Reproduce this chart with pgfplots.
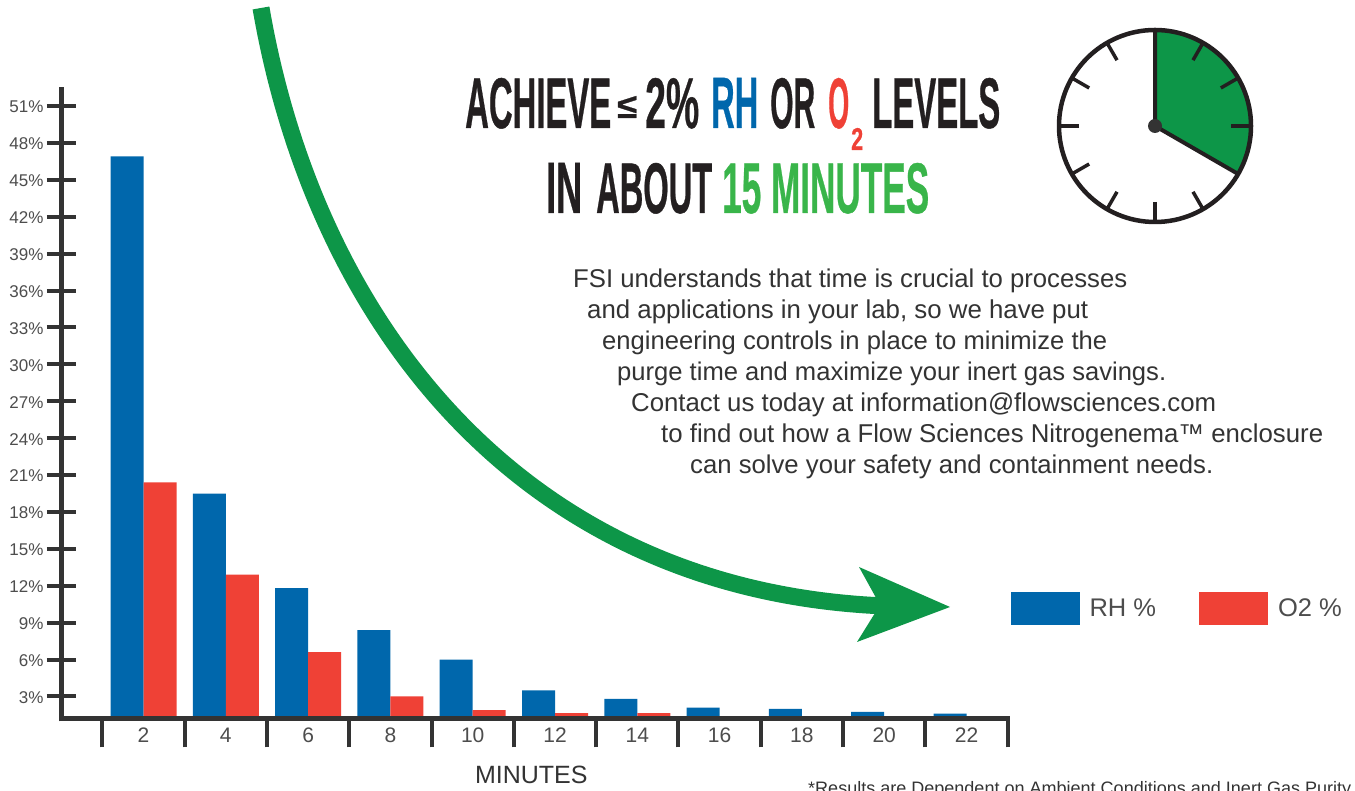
\documentclass[border=0pt]{standalone}
\usepackage{graphicx}
\usepackage{fontspec}
\usepackage{pgfplots}
\pgfplotsset{compat=1.18}
\setmainfont{Liberation Sans}
\newfontfamily\titlefont[FakeBold=0.7]{Liberation Sans Bold}
\definecolor{rhblue}{HTML}{0067AC}
\definecolor{otwo}{HTML}{EF4136}
\definecolor{tgreen}{HTML}{39B54A}
\definecolor{agreen}{HTML}{0D9648}
\definecolor{ink}{HTML}{231F20}
\definecolor{axisgray}{HTML}{333333}
\definecolor{lab}{HTML}{4D4D4D}
\newcommand{\T}[5][128]{\node[anchor=base west,inner sep=0pt,text=#4] at (#2,#1) {\resizebox{#3pt}{50pt}{\titlefont #5}};}
\newcommand{\B}[4]{\node[anchor=base west,inner sep=0pt,text=axisgray] at (#1,#2) {\resizebox{#3pt}{!}{\fontsize{24}{28}\selectfont #4}};}
\begin{document}
\begin{tikzpicture}[x=1pt,y=1pt]
\useasboundingbox (0,0) rectangle (1355,791);
\clip (0,0) rectangle (1355,791);
\fill[white] (0,0) rectangle (1355,791);
\begin{axis}[
  at={(61.5pt,72.5pt)},anchor=south west,
  scale only axis,width=948.5pt,height=631.5pt,
  xmin=0.007,xmax=23.057,ymin=1.21,ymax=52.55,
  axis lines=left,
  axis on top,
  axis line style={-,line width=5pt,color=axisgray},
  y axis line style={shorten <=-3pt},
  ybar=0pt,bar width=33pt,
  clip=true,
  xtick={1,3,...,23},
  xticklabels={},
  xtick align=outside,
  x tick style={line width=4pt,color=axisgray},
  extra x ticks={2,4,...,22},
  extra x tick labels={2,4,6,8,10,12,14,16,18,20,22},
  extra x tick style={major tick length=0pt,tick style={draw=none},
    xticklabel style={font=\fontsize{21}{24}\selectfont,text=lab,yshift=-6pt}},
  ytick={3,6,...,51},
  ytick align=center,
  y tick style={line width=4pt,color=axisgray},
  major tick length=29pt,
  yticklabel={\pgfmathprintnumber{\tick}\%},
  /pgf/number format/assume math mode=true,
  yticklabel style={font=\fontsize{17}{20}\selectfont,text=lab,yshift=-1pt},
  xlabel={MINUTES},
  xlabel style={at={(axis description cs:0.4953,0)},anchor=center,yshift=-56.5pt,
    font=\fontsize{25}{28}\selectfont,text=axisgray},
  legend style={at={(axis cs:23.065,10.13)},anchor=west,draw=none,fill=none,
    legend columns=2,font=\fontsize{25.5}{28}\selectfont,text=lab,inner sep=0pt,
    /tikz/every odd column/.append style={column sep=8pt},
    /tikz/every even column/.append style={column sep=41pt}},
  legend image code/.code={\fill[#1] (0pt,-16.5pt) rectangle (69pt,16.5pt);},
]
\addplot[fill=rhblue,draw=none] coordinates {(2,46.9) (4,19.5) (6,11.8) (8,8.4) (10,6) (12,3.5) (14,2.8) (16,2.1) (18,2) (20,1.75) (22,1.6)};
\addlegendentry{RH \%}
\addplot[fill=otwo,draw=none] coordinates {(2,20.4) (4,12.9) (6,6.6) (8,3) (10,1.9) (12,1.65) (14,1.65)};
\addlegendentry{O2 \%}
\end{axis}
% arrow
\fill[agreen] (950,184) -- (859,224) -- (880,186) -- (857,149) -- cycle;
\draw[agreen,line width=17pt] (261,783) .. controls (315,470) and (520,200) .. (885,185);
% clock
\begin{scope}[shift={(1155,665)}]
\fill[agreen] (0,0) -- (0,96) arc (90:-30:96) -- cycle;
\draw[ink,line width=4.5pt] (0,0) circle (96);
\foreach \a in {0,30,60,120,150,180,210,240,270,300}{\draw[ink,line width=3.5pt] (\a:76) -- (\a:96);}
\draw[ink,line width=4pt] (0,96) -- (0,0) -- (-30:96);
\fill[axisgray] (0,0) circle (7);
\end{scope}
% title and text
\begin{scope}[yshift=791pt,y=-1pt]
\T{465}{146}{ink}{ACHIEVE}
\node[anchor=base west,inner sep=0pt,text=ink] at (617,118) {\resizebox{20pt}{22pt}{\titlefont ≤}};
\T{645}{54}{ink}{2\%}
\T{711}{47}{rhblue}{RH}
\T{770}{45}{ink}{OR}
\T{828}{21}{otwo}{O}
\node[anchor=base west,inner sep=0pt,text=otwo] at (851,150) {\resizebox{12pt}{22pt}{\titlefont 2}};
\T{872}{128}{ink}{LEVELS}
\T[213]{546}{36}{ink}{IN}
\T[213]{596}{116}{ink}{ABOUT}
\T[213]{722}{207}{tgreen}{15 MINUTES}
\B{573}{288}{554}{FSI understands that time is crucial to processes}
\B{587}{319}{501}{and applications in your lab, so we have put}
\B{602}{350}{505}{engineering controls in place to minimize the}
\B{617}{381}{549}{purge time and maximize your inert gas savings.}
\B{631}{412}{585}{Contact us today at information@flowsciences.com}
\B{661}{443}{662}{to find out how a Flow Sciences Nitrogenema™ enclosure}
\B{690}{474}{523}{can solve your safety and containment needs.}
\node[anchor=base west,inner sep=0pt,text=axisgray] at (808,795) {\resizebox{543pt}{!}{\fontsize{18}{20}\selectfont *Results are Dependent on Ambient Conditions and Inert Gas Purity}};
\end{scope}
\end{tikzpicture}
\end{document}
